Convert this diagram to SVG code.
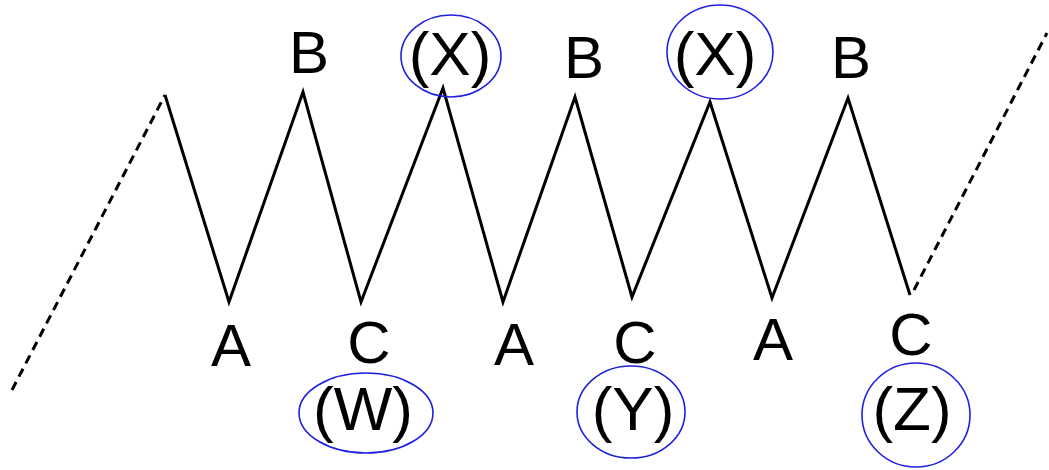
<svg xmlns="http://www.w3.org/2000/svg" width="1049" height="470" viewBox="0 0 1049 470">
<style>
.t{font-family:"Liberation Sans",Arial,sans-serif;font-size:60px;fill:#000;text-anchor:middle}
.p{font-family:"Liberation Sans",Arial,sans-serif;font-size:62px;fill:#000;text-anchor:middle}
.e{fill:none;stroke:#2020e0;stroke-width:1.6}
.s{fill:none;stroke:#000;stroke-width:3;stroke-linejoin:miter}
.d{fill:none;stroke:#000;stroke-width:3;stroke-dasharray:9,6}
</style>
<rect width="1049" height="470" fill="#fff"/>
<g id="connectors">
<path class="d" d="M12,390 L165,95"/>
<path class="s" d="M165,95 L229,302 L303,92 L361,302 L443,88 L503,302 L575,97 L632,297 L710,102 L772,298 L848,98 L910,295"/>
<path class="d" d="M914,290 L1047,33"/>
</g>
<g id="label-B1"><text class="t" x="309" y="73">B</text></g>
<g id="label-B2"><text class="t" x="584" y="78">B</text></g>
<g id="label-B3"><text class="t" x="851" y="78">B</text></g>
<g id="label-A1"><text class="t" x="231" y="366">A</text></g>
<g id="label-C1"><text class="t" x="369" y="363">C</text></g>
<g id="label-A2"><text class="t" x="514" y="365">A</text></g>
<g id="label-C2"><text class="t" x="635" y="363">C</text></g>
<g id="label-A3"><text class="t" x="773" y="360">A</text></g>
<g id="label-C3"><text class="t" x="911" y="355">C</text></g>
<g id="node-X1"><ellipse class="e" cx="451" cy="56" rx="50" ry="41"/><text class="p" x="450" y="75">(X)</text></g>
<g id="node-X2"><ellipse class="e" cx="720" cy="52" rx="53" ry="47"/><text class="p" x="715" y="75">(X)</text></g>
<g id="node-W"><ellipse class="e" cx="366" cy="413" rx="67" ry="40"/><text class="p" x="363" y="430">(W)</text></g>
<g id="node-Y"><ellipse class="e" cx="631" cy="412" rx="54" ry="46"/><text class="p" x="633" y="430">(Y)</text></g>
<g id="node-Z"><ellipse class="e" cx="916" cy="415" rx="54" ry="52"/><text class="p" x="912" y="430">(Z)</text></g>
</svg>
